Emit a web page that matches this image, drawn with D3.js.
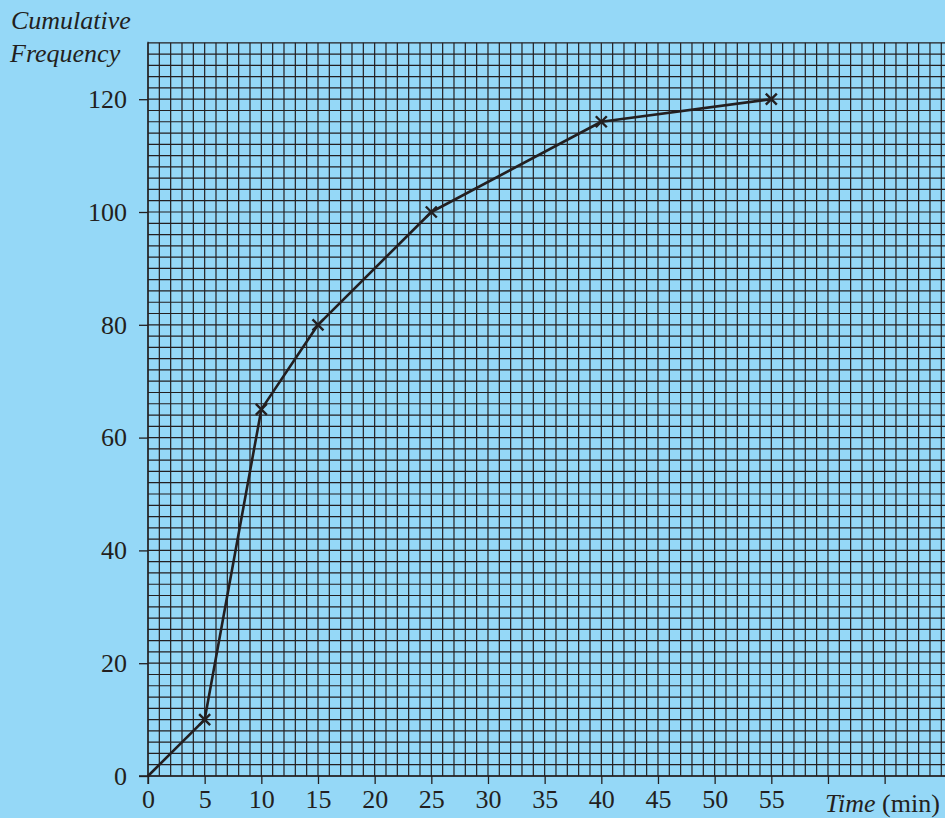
<!DOCTYPE html>
<html><head><meta charset="utf-8">
<script src="https://cdn.jsdelivr.net/npm/d3@7"></script>
<style>html,body{margin:0;padding:0;background:#95d8f7;}svg{display:block;}</style>
</head><body>
<script>
const times = [0, 5, 10, 15, 25, 40, 55];
const cumFreq = [0, 10, 65, 80, 100, 116, 120];
const xTickValues = [0, 5, 10, 15, 20, 25, 30, 35, 40, 45, 50, 55, 60, 65];
const xTickLabels = ["0","5","10","15","20","25","30","35","40","45","50","55","",""];
const yTickValues = [0, 20, 40, 60, 80, 100, 120];

const W = 945, H = 818;
const svg = d3.select("body").append("svg").attr("width", W).attr("height", H);
svg.append("rect").attr("width", W).attr("height", H).attr("fill", "#95d8f7");

const x = d3.scaleLinear().domain([0, 70]).range([148, 941.3]);
const y = d3.scaleLinear().domain([0, 130]).range([776, 42.8]);
const ink = "#231f20";

// grid
const g = svg.append("g");
g.selectAll("line.v").data(d3.range(0, 71, 1)).join("line")
  .attr("x1", d => x(d)).attr("x2", d => x(d))
  .attr("y1", y(130)).attr("y2", y(0))
  .attr("stroke", ink).attr("stroke-width", 1.2);
g.selectAll("line.h").data(d3.range(0, 131, 2)).join("line")
  .attr("x1", x(0)).attr("x2", W)
  .attr("y1", d => y(d)).attr("y2", d => y(d))
  .attr("stroke", ink).attr("stroke-width", 1.2);

// axes
const fontFam = "'Liberation Serif','Times New Roman',serif";
const FS = "26px";
const xAxis = d3.axisBottom(x).tickValues(xTickValues).tickSize(8).tickPadding(6)
  .tickFormat((d, i) => xTickLabels[i]);
const xa = svg.append("g").attr("transform", `translate(0,${y(0)})`).call(xAxis);
xa.select(".domain").attr("d", `M${x(0)-9},0H${W}`).attr("stroke", ink).attr("stroke-width", 1.3);
xa.selectAll(".tick line").attr("stroke", ink).attr("stroke-width", 1.3);
xa.selectAll(".tick text").attr("fill", ink).style("font-family", fontFam).style("font-size", FS);

const yAxis = d3.axisLeft(y).tickValues(yTickValues).tickSize(9).tickPadding(12);
const ya = svg.append("g").attr("transform", `translate(${x(0)},0)`).call(yAxis);
ya.select(".domain").attr("d", `M0,${y(130)-1}V${y(0)+8}`).attr("stroke", ink).attr("stroke-width", 1.3);
ya.selectAll(".tick line").attr("stroke", ink).attr("stroke-width", 1.3);
ya.selectAll(".tick text").attr("fill", ink).style("font-family", fontFam).style("font-size", FS);

// line
const pts = times.map((t, i) => [t, cumFreq[i]]);
svg.append("path").datum(pts)
  .attr("d", d3.line().x(d => x(d[0])).y(d => y(d[1])))
  .attr("fill", "none").attr("stroke", ink).attr("stroke-width", 2.6).attr("stroke-linejoin", "round");

// crosses
const s = 5.5;
svg.selectAll("path.cross").data(pts.slice(1)).join("path")
  .attr("d", d => { const cx = x(d[0]), cy = y(d[1]);
    return `M${cx-s},${cy-s}L${cx+s},${cy+s}M${cx-s},${cy+s}L${cx+s},${cy-s}`; })
  .attr("stroke", ink).attr("stroke-width", 2.4).attr("fill", "none");

// labels
svg.append("text").attr("x", 11).attr("y", 29).attr("fill", ink)
  .style("font-family", fontFam).style("font-size", FS).style("font-style", "italic").text("Cumulative");
svg.append("text").attr("x", 10).attr("y", 62).attr("fill", ink)
  .style("font-family", fontFam).style("font-size", FS).style("font-style", "italic").text("Frequency");
const tl = svg.append("text").attr("x", 825).attr("y", 812).attr("fill", ink)
  .style("font-family", fontFam).style("font-size", FS);
tl.append("tspan").style("font-style", "italic").text("Time");
tl.append("tspan").text(" (min)");
</script>
</body></html>
